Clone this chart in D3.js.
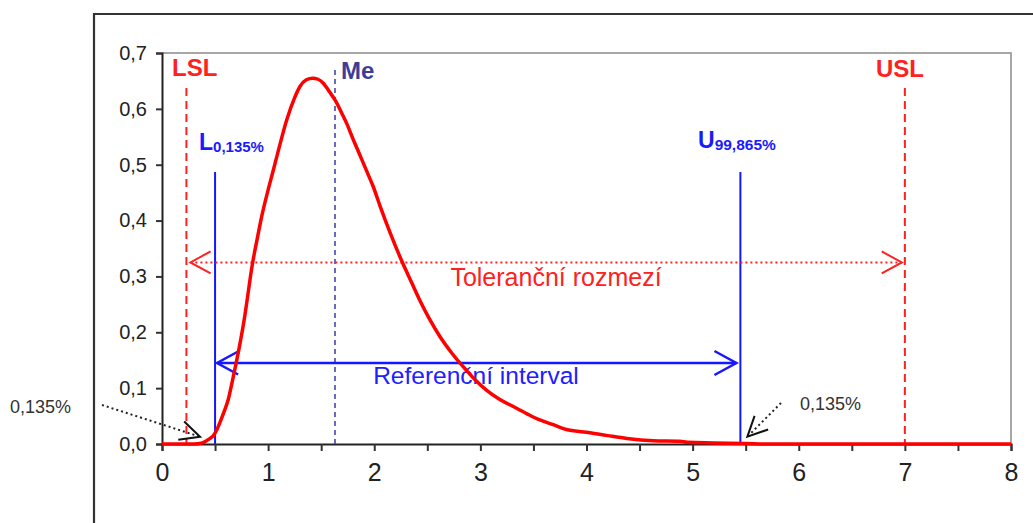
<!DOCTYPE html>
<html>
<head>
<meta charset="utf-8">
<script src="https://cdn.jsdelivr.net/npm/d3@7"></script>
<style>
  html, body { margin: 0; padding: 0; background: #fff; }
  svg { display: block; font-family: "Liberation Sans", Arial, sans-serif; }
</style>
</head>
<body>
<svg id="chart" width="1033" height="523"></svg>
<script>
// Density curve samples (x, density)
const densityX = [0, 0.3, 0.38, 0.42, 0.46, 0.484, 0.52, 0.547, 0.585, 0.625, 0.66, 0.70, 0.74, 0.78, 0.80, 0.85, 0.90, 0.94, 1.00, 1.05, 1.10, 1.175, 1.25, 1.30, 1.36, 1.42, 1.47, 1.52, 1.58, 1.63, 1.70, 1.74, 1.80, 1.87, 1.93, 1.99, 2.055, 2.15, 2.27, 2.35, 2.43, 2.52, 2.62, 2.73, 2.84, 2.95, 3.06, 3.18, 3.31, 3.44, 3.56, 3.68, 3.81, 4.0, 4.2, 4.38, 4.63, 4.88, 4.95, 5.2, 5.5, 5.7, 8];
const densityY = [0, 0, 0.002, 0.006, 0.011, 0.015, 0.027, 0.039, 0.058, 0.080, 0.11, 0.146, 0.185, 0.229, 0.255, 0.32, 0.37, 0.408, 0.455, 0.491, 0.528, 0.580, 0.620, 0.640, 0.652, 0.655, 0.653, 0.646, 0.630, 0.616, 0.590, 0.574, 0.546, 0.515, 0.488, 0.461, 0.426, 0.378, 0.323, 0.29, 0.257, 0.224, 0.192, 0.163, 0.138, 0.115, 0.096, 0.080, 0.067, 0.054, 0.043, 0.035, 0.026, 0.021, 0.015, 0.010, 0.006, 0.005, 0.003, 0.002, 0.001, 0, 0];

// Specification limits, quantiles and median
const LSL = 0.23;
const USL = 7.0;
const L = 0.5;
const U = 5.45;
const ME = 1.63;

// Axis ticks
const xTicks = [0, 0.5, 1, 1.5, 2, 2.5, 3, 3.5, 4, 4.5, 5, 5.5, 6, 6.5, 7, 7.5, 8];
const xTickLabels = ["0", "", "1", "", "2", "", "3", "", "4", "", "5", "", "6", "", "7", "", "8"];
const yTicks = [0, 0.1, 0.2, 0.3, 0.4, 0.5, 0.6, 0.7];
const yTickLabels = ["0,0", "0,1", "0,2", "0,3", "0,4", "0,5", "0,6", "0,7"];

// Levels for the two interval arrows and the tail annotations
const toleranceLevel = 0.325;
const referenceLevel = 0.145;
const tailLabel = "0,135%";

const svg = d3.select("#chart");
const x = d3.scaleLinear().domain([0, 8]).range([162, 1011]);
const y = d3.scaleLinear().domain([0, 0.7]).range([444, 53]);

// Outer frame (partially visible)
svg.append("path")
  .attr("d", "M94,523 L94,14 L1033,14")
  .attr("fill", "none").attr("stroke", "#333").attr("stroke-width", 2.2);

// Plot area border (top and right)
svg.append("path")
  .attr("d", `M${x(0)},${y(0.7)} L${x(8)},${y(0.7)} L${x(8)},${y(0)}`)
  .attr("fill", "none").attr("stroke", "#8a8a8a").attr("stroke-width", 1.5);

// Axes
const xAxis = d3.axisBottom(x).tickValues(xTicks)
  .tickFormat((d, i) => xTickLabels[i]).tickSizeOuter(0).tickSize(7).tickPadding(12);
const gx = svg.append("g").attr("transform", `translate(0,${y(0)})`).call(xAxis);
gx.select(".domain").attr("stroke", "#222").attr("stroke-width", 2);
gx.selectAll(".tick line").attr("stroke", "#333").attr("stroke-width", 2);
gx.selectAll(".tick text").attr("font-size", 25).attr("fill", "#222")
  .attr("font-family", "Liberation Sans, Arial, sans-serif");

const yAxis = d3.axisLeft(y).tickValues(yTicks)
  .tickFormat((d, i) => yTickLabels[i]).tickSizeOuter(0).tickSize(6).tickPadding(9);
const gy = svg.append("g").attr("transform", `translate(${x(0)},0)`).call(yAxis);
gy.select(".domain").attr("stroke", "#222").attr("stroke-width", 2);
gy.selectAll(".tick line").attr("stroke", "#333").attr("stroke-width", 2);
gy.selectAll(".tick text").attr("font-size", 20).attr("fill", "#222")
  .attr("font-family", "Liberation Sans, Arial, sans-serif");

// Vertical reference lines
function vline(v, yTopPx, color, width, dash) {
  svg.append("line")
    .attr("x1", x(v)).attr("x2", x(v))
    .attr("y1", yTopPx).attr("y2", y(0))
    .attr("stroke", color).attr("stroke-width", width)
    .attr("stroke-dasharray", dash);
}
vline(LSL, 88, "#ff2020", 2, "8,5");
vline(USL, 88, "#ff2020", 2, "8,5");
vline(ME, 70, "#4646a6", 1.6, "5,4");
vline(L, 172, "#1616ff", 2, null);
vline(U, 172, "#1616ff", 2, null);

// Open arrowhead: tip at (tx, ty), pointing along angle ang
function arrowHead(tx, ty, ang, len, spread, color, width) {
  const a1 = ang + Math.PI - spread, a2 = ang + Math.PI + spread;
  svg.append("path")
    .attr("d", `M${tx + len * Math.cos(a1)},${ty + len * Math.sin(a1)} L${tx},${ty} L${tx + len * Math.cos(a2)},${ty + len * Math.sin(a2)}`)
    .attr("fill", "none").attr("stroke", color).attr("stroke-width", width)
    .attr("stroke-linejoin", "miter");
}

// Tolerance interval: dotted red double arrow between LSL and USL
{
  const yy = y(toleranceLevel);
  const x1 = x(LSL) + 4, x2 = x(USL) - 3;
  svg.append("line").attr("x1", x1).attr("x2", x2).attr("y1", yy).attr("y2", yy)
    .attr("stroke", "#ff2020").attr("stroke-width", 2).attr("stroke-dasharray", "2,3");
  arrowHead(x1, yy, Math.PI, 23, 0.5, "#ff2020", 2);
  arrowHead(x2, yy, 0, 23, 0.5, "#ff2020", 2);
  svg.append("text").attr("x", 556).attr("y", 286).attr("text-anchor", "middle")
    .attr("font-size", 25).attr("fill", "#ff2020").text("Toleranční rozmezí");
}

// Reference interval: solid blue double arrow between L and U
{
  const yy = y(referenceLevel);
  const x1 = x(L) + 2, x2 = x(U) - 4;
  svg.append("line").attr("x1", x1).attr("x2", x2).attr("y1", yy).attr("y2", yy)
    .attr("stroke", "#1616ff").attr("stroke-width", 2.5);
  arrowHead(x1, yy, Math.PI, 24, 0.5, "#1616ff", 2.5);
  arrowHead(x2, yy, 0, 25, 0.5, "#1616ff", 2.5);
  svg.append("text").attr("x", 476).attr("y", 384).attr("text-anchor", "middle")
    .attr("font-size", 24.5).attr("fill", "#2020ff").text("Referenční interval");
}

// Density curve
const pts = densityX.map((d, i) => [d, densityY[i]]);
svg.append("path")
  .datum(pts)
  .attr("d", d3.line().x(d => x(d[0])).y(d => y(d[1])).curve(d3.curveMonotoneX))
  .attr("fill", "none").attr("stroke", "#ff0000").attr("stroke-width", 3.5)
  .attr("stroke-linejoin", "round");

// Line labels
svg.append("text").attr("x", 172).attr("y", 76).attr("font-size", 24)
  .attr("font-weight", "bold").attr("fill", "#ff2020").text("LSL");
svg.append("text").attr("x", 876).attr("y", 77).attr("font-size", 24)
  .attr("font-weight", "bold").attr("fill", "#ff2020").text("USL");
svg.append("text").attr("x", 341).attr("y", 79).attr("font-size", 24)
  .attr("font-weight", "bold").attr("fill", "#3d3d99").text("Me");

const lLab = svg.append("text").attr("x", 199).attr("y", 150)
  .attr("font-weight", "bold").attr("fill", "#1a1aff");
lLab.append("tspan").attr("font-size", 23).text("L");
lLab.append("tspan").attr("font-size", 15).attr("dy", 2).text("0,135%");

const uLab = svg.append("text").attr("x", 698).attr("y", 148)
  .attr("font-weight", "bold").attr("fill", "#1a1aff");
uLab.append("tspan").attr("font-size", 23).text("U");
uLab.append("tspan").attr("font-size", 15.5).attr("dy", 2).text("99,865%");

// Tail annotations: dotted pointers with solid open heads
function pointer(fromX, fromY, tipX, tipY) {
  svg.append("line").attr("x1", fromX).attr("y1", fromY).attr("x2", tipX).attr("y2", tipY)
    .attr("stroke", "#222").attr("stroke-width", 2).attr("stroke-dasharray", "2,3");
  const ang = Math.atan2(tipY - fromY, tipX - fromX);
  arrowHead(tipX, tipY, ang, 22, 0.45, "#111", 2);
}
pointer(102, 405, x(L) - 15, y(0.013));
pointer(781, 403, x(U) + 7, y(0.013));

svg.append("text").attr("x", 10).attr("y", 413).attr("font-size", 18)
  .attr("fill", "#333").text(tailLabel);
svg.append("text").attr("x", 800).attr("y", 410).attr("font-size", 18)
  .attr("fill", "#333").text(tailLabel);
</script>
</body>
</html>
